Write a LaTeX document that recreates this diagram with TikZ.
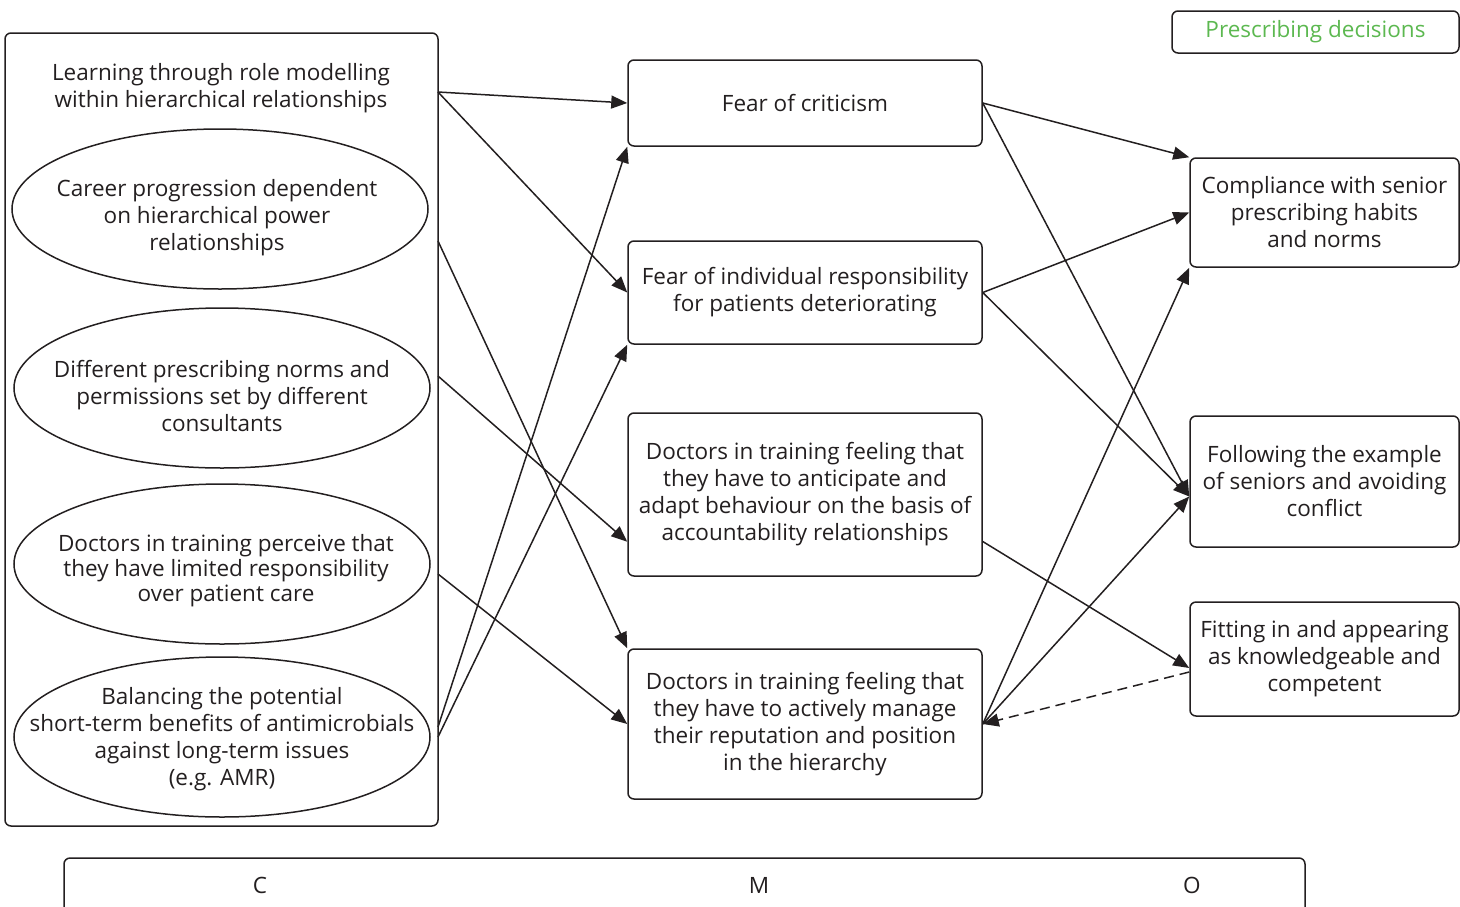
\documentclass[tikz,border=0pt]{standalone}
\usepackage{fontspec}
\setmainfont{Open Sans}
\usetikzlibrary{arrows.meta,shapes.geometric}
\definecolor{decgreen}{RGB}{92,184,80}
\definecolor{ink}{RGB}{35,31,32}

\begin{document}
\begin{tikzpicture}[x=1pt,y=-1pt, >={Triangle[length=16pt,width=13pt]},
          every node/.style={font=\fontsize{22.5}{27}\selectfont, text=ink, align=center},
          box/.style={rectangle, draw=ink, line width=1.5pt, rounded corners=6pt},
          oval/.style={ellipse, draw=ink, line width=1.5pt, inner sep=0pt,
            minimum width=416pt, minimum height=160pt},
          link/.style={->, draw=ink, line width=1.5pt}]
          \useasboundingbox (0,0) rectangle (1460,906);
          \clip (0,0) rectangle (1460,906);

          % contexts
          \node[box, minimum width=433pt, minimum height=793pt] (ctx) at (221.5,429.5) {};
          \node (learn) at (221,88) {Learning through role modelling\\within hierarchical relationships};
          \node[oval] (e1) at (220,209) {};
          \node[oval] (e2) at (222,388) {};
          \node[oval] (e3) at (222,564) {};
          \node[oval] (e4) at (222,737) {};
          \node (e1t) at (217,218) {Career progression dependent\\on hierarchical power\\relationships};
          \node (e2t) at (222,396) {Different prescribing norms and\\permissions set by different\\consultants};
          \node[font=\fontsize{22.5}{25}\selectfont] (e3t) at (226,571) {Doctors in training perceive that\\they have limited responsibility\\over patient care};
          \node (e4t) at (222,739) {Balancing the potential\\short-term benefits of antimicrobials\\against long-term issues\\(e.g. AMR)};

          % mechanisms
          \node[box, minimum width=354pt, minimum height=86pt] (m1) at (805,103) {Fear of criticism};
          \node[box, minimum width=354pt, minimum height=103pt] (m2) at (805,292.5) {Fear of individual responsibility\\for patients deteriorating};
          \node[box, minimum width=354pt, minimum height=163pt] (m3) at (805,494.5) {Doctors in training feeling that\\they have to anticipate and\\adapt behaviour on the basis of\\accountability relationships};
          \node[box, minimum width=354pt, minimum height=150pt] (m4) at (805,724) {Doctors in training feeling that\\they have to actively manage\\their reputation and position\\in the hierarchy};

          % outcomes
          \node[box, minimum width=269pt, minimum height=109pt] (o1) at (1324.5,212.5) {Compliance with senior\\prescribing habits\\and norms};
          \node[box, minimum width=269pt, minimum height=131pt] (o2) at (1324.5,481.5) {Following the example\\of seniors and avoiding\\conflict};
          \node[box, minimum width=269pt, minimum height=114pt] (o3) at (1324.5,659) {Fitting in and appearing\\as knowledgeable and\\competent};
          \node[box, minimum width=287pt, minimum height=42pt, text=decgreen] (dec) at (1315.5,32) {Prescribing decisions};

          % C M O bar
          \node[box, minimum width=1241pt, minimum height=60pt] (cmo) at (684.5,888) {};
          \node (c) at (260,885) {C};
          \node (m) at (759,885) {M};
          \node (o) at (1192,885) {O};

          \coordinate (s1) at (438,92);
          \coordinate (s2) at (438,241);
          \coordinate (s3) at (438,376);
          \coordinate (s4) at (438,574);
          \coordinate (s5) at (438,727);
          \coordinate (s6) at (438,737);
          \coordinate (t2) at ([yshift=-15pt]o2.west);

          \draw[link] (s1) -- (m1.west);
          \draw[link] (s1) -- (m2.west);
          \draw[link] (s2) -- (m4.north west);
          \draw[link] (s3) -- ([yshift=35pt]m3.south west);
          \draw[link] (s4) -- (m4.west);
          \draw[link] (s5) -- (m1.south west);
          \draw[link] (s6) -- (m2.south west);

          \draw[link] (m1.east) -- (o1.north west);
          \draw[link] (m1.east) -- (t2);
          \draw[link] (m2.east) -- (o1.west);
          \draw[link] (m2.east) -- (t2);
          \draw[link] ([yshift=-47pt]m3.east) -- ([yshift=-9pt]o3.west);
          \draw[link] (m4.east) -- (o1.south west);
          \draw[link] (m4.east) -- (t2);
          \draw[link, dash pattern=on 10pt off 6pt] ([yshift=-13pt]o3.west) -- (m4.east);
        \end{tikzpicture}
\end{document}
